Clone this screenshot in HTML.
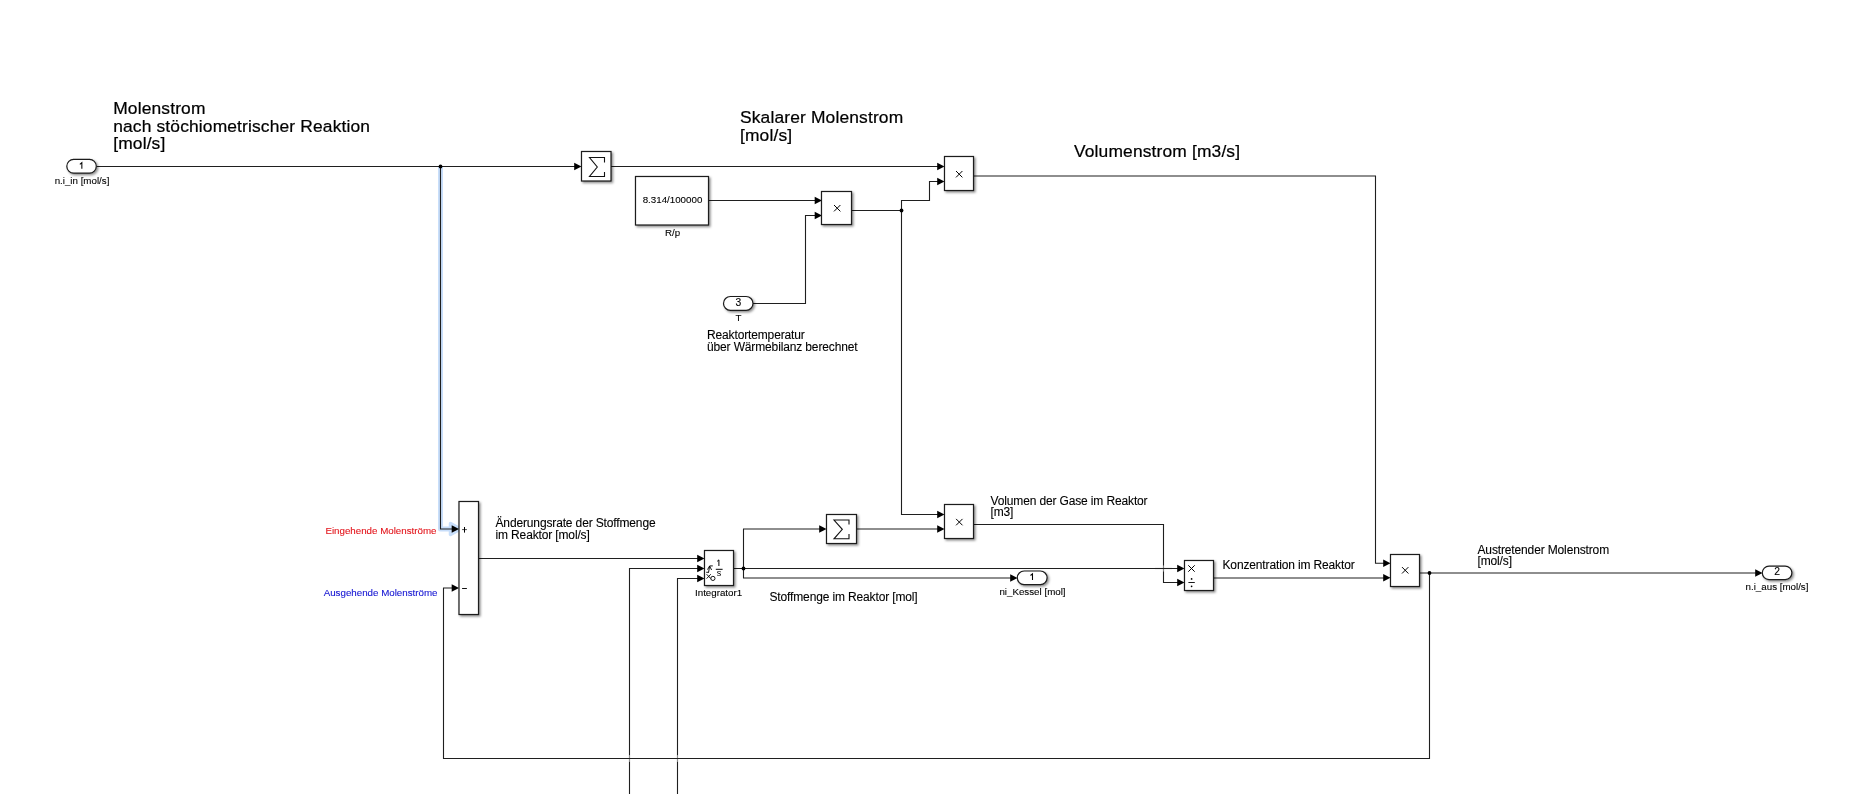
<!DOCTYPE html>
<html><head><meta charset="utf-8"><title>Simulink model</title>
<style>
html,body{margin:0;padding:0;background:#fff;width:1863px;height:794px;overflow:hidden}
svg{display:block;font-family:"Liberation Sans",sans-serif;will-change:transform}
</style></head><body>
<svg width="1863" height="794" viewBox="0 0 1863 794" xmlns="http://www.w3.org/2000/svg">
<defs><filter id="sh" x="-30%" y="-30%" width="160%" height="160%"><feDropShadow dx="1.5" dy="1.5" stdDeviation="1" flood-color="#000" flood-opacity="0.45"/></filter></defs>
<rect width="1863" height="794" fill="#fff"/>
<path d="M440.5,166.5 L440.5,529 L452,529" fill="none" stroke="#c8defa" stroke-width="5" stroke-linejoin="round"/>
<path d="M450.5,523.5 L460.5,529 L450.5,534.5 Z" fill="#c8defa" stroke="#c8defa" stroke-width="3.5" stroke-linejoin="round"/>
<path d="M97,166.5 L575,166.5" fill="none" stroke="#1f1f1f" stroke-width="1.1" stroke-linejoin="miter" stroke-linecap="square"/>
<path d="M440.5,166.5 L440.5,529 L452,529" fill="none" stroke="#1f1f1f" stroke-width="1.1" stroke-linejoin="miter" stroke-linecap="square"/>
<path d="M611.5,166.5 L938,166.5" fill="none" stroke="#1f1f1f" stroke-width="1.1" stroke-linejoin="miter" stroke-linecap="square"/>
<path d="M708.5,200.5 L815.5,200.5" fill="none" stroke="#1f1f1f" stroke-width="1.1" stroke-linejoin="miter" stroke-linecap="square"/>
<path d="M753,303.5 L805.5,303.5 L805.5,215.5 L815.5,215.5" fill="none" stroke="#1f1f1f" stroke-width="1.1" stroke-linejoin="miter" stroke-linecap="square"/>
<path d="M851,210.5 L901.5,210.5 L901.5,200.5 L929.5,200.5 L929.5,181.5 L938,181.5" fill="none" stroke="#1f1f1f" stroke-width="1.1" stroke-linejoin="miter" stroke-linecap="square"/>
<path d="M901.5,210.5 L901.5,514.5 L938,514.5" fill="none" stroke="#1f1f1f" stroke-width="1.1" stroke-linejoin="miter" stroke-linecap="square"/>
<path d="M973.5,176 L1375.5,176 L1375.5,563.3 L1384,563.3" fill="none" stroke="#1f1f1f" stroke-width="1.1" stroke-linejoin="miter" stroke-linecap="square"/>
<path d="M479,558.5 L698,558.5" fill="none" stroke="#1f1f1f" stroke-width="1.1" stroke-linejoin="miter" stroke-linecap="square"/>
<path d="M629.5,800 L629.5,568.5 L698,568.5" fill="none" stroke="#1f1f1f" stroke-width="1.1" stroke-linejoin="miter" stroke-linecap="square"/>
<path d="M677.5,800 L677.5,578.5 L698,578.5" fill="none" stroke="#1f1f1f" stroke-width="1.1" stroke-linejoin="miter" stroke-linecap="square"/>
<path d="M733.5,568.5 L1178,568.5" fill="none" stroke="#1f1f1f" stroke-width="1.1" stroke-linejoin="miter" stroke-linecap="square"/>
<path d="M743.5,568.5 L743.5,529 L820,529" fill="none" stroke="#1f1f1f" stroke-width="1.1" stroke-linejoin="miter" stroke-linecap="square"/>
<path d="M743.5,568.5 L743.5,578 L1011,578" fill="none" stroke="#1f1f1f" stroke-width="1.1" stroke-linejoin="miter" stroke-linecap="square"/>
<path d="M856,529 L938,529" fill="none" stroke="#1f1f1f" stroke-width="1.1" stroke-linejoin="miter" stroke-linecap="square"/>
<path d="M973.5,524.5 L1163.5,524.5 L1163.5,582.5 L1178,582.5" fill="none" stroke="#1f1f1f" stroke-width="1.1" stroke-linejoin="miter" stroke-linecap="square"/>
<path d="M1213.5,578 L1384,578" fill="none" stroke="#1f1f1f" stroke-width="1.1" stroke-linejoin="miter" stroke-linecap="square"/>
<path d="M1419.5,573 L1756,573" fill="none" stroke="#1f1f1f" stroke-width="1.1" stroke-linejoin="miter" stroke-linecap="square"/>
<path d="M1429.5,573 L1429.5,758.5 L443.5,758.5 L443.5,588 L453,588" fill="none" stroke="#1f1f1f" stroke-width="1.1" stroke-linejoin="miter" stroke-linecap="square"/>
<line x1="629.5" y1="755.3" x2="629.5" y2="761.7" stroke="#fff" stroke-width="2.2"/>
<line x1="629.5" y1="755.3" x2="629.5" y2="761.7" stroke="#1f1f1f" stroke-width="1.1" opacity="0.5"/>
<line x1="677.5" y1="755.3" x2="677.5" y2="761.7" stroke="#fff" stroke-width="2.2"/>
<line x1="677.5" y1="755.3" x2="677.5" y2="761.7" stroke="#1f1f1f" stroke-width="1.1" opacity="0.5"/>
<line x1="620" y1="758.5" x2="690" y2="758.5" stroke="#1f1f1f" stroke-width="1.1"/>
<line x1="1163.5" y1="565.7" x2="1163.5" y2="571.3" stroke="#fff" stroke-width="2.2"/>
<line x1="1163.5" y1="565.7" x2="1163.5" y2="571.3" stroke="#1f1f1f" stroke-width="1.1" opacity="0.55"/>
<line x1="1155" y1="568.5" x2="1172" y2="568.5" stroke="#1f1f1f" stroke-width="1.1"/>
<path d="M574.2,162.7 L581.5,166.5 L574.2,170.3 Z" fill="#000"/>
<path d="M937.2,162.7 L944.5,166.5 L937.2,170.3 Z" fill="#000"/>
<path d="M937.2,177.7 L944.5,181.5 L937.2,185.3 Z" fill="#000"/>
<path d="M814.7,196.7 L822,200.5 L814.7,204.3 Z" fill="#000"/>
<path d="M814.7,211.7 L822,215.5 L814.7,219.3 Z" fill="#000"/>
<path d="M937.2,510.7 L944.5,514.5 L937.2,518.3 Z" fill="#000"/>
<path d="M937.2,525.2 L944.5,529 L937.2,532.8 Z" fill="#000"/>
<path d="M1383.2,559.5 L1390.5,563.3 L1383.2,567.0999999999999 Z" fill="#000"/>
<path d="M1383.2,574.0 L1390.5,577.8 L1383.2,581.5999999999999 Z" fill="#000"/>
<path d="M451.7,525.2 L459,529 L451.7,532.8 Z" fill="#000"/>
<path d="M451.7,584.2 L459,588 L451.7,591.8 Z" fill="#000"/>
<path d="M697.2,554.7 L704.5,558.5 L697.2,562.3 Z" fill="#000"/>
<path d="M697.2,564.7 L704.5,568.5 L697.2,572.3 Z" fill="#000"/>
<path d="M697.2,574.7 L704.5,578.5 L697.2,582.3 Z" fill="#000"/>
<path d="M819.2,525.2 L826.5,529 L819.2,532.8 Z" fill="#000"/>
<path d="M1010.2,574.2 L1017.5,578 L1010.2,581.8 Z" fill="#000"/>
<path d="M1177.2,564.7 L1184.5,568.5 L1177.2,572.3 Z" fill="#000"/>
<path d="M1177.2,578.7 L1184.5,582.5 L1177.2,586.3 Z" fill="#000"/>
<path d="M1755.2,569.2 L1762.5,573 L1755.2,576.8 Z" fill="#000"/>
<circle cx="440.5" cy="166.5" r="1.9" fill="#000"/>
<circle cx="901.5" cy="210.5" r="1.9" fill="#000"/>
<circle cx="743.5" cy="568.5" r="1.9" fill="#000"/>
<circle cx="1429.5" cy="573" r="1.9" fill="#000"/>
<rect x="581.5" y="151.5" width="29.5" height="29.5" fill="#fff" stroke="#1a1a1a" stroke-width="1.2" filter="url(#sh)"/>
<path d="M604.5,162.5 L604.5,157.5 L589.5,157.5 L597.3,167 L589.5,176.5 L604.5,176.5 L604.5,172" fill="none" stroke="#111" stroke-width="1.1" stroke-linejoin="miter"/>
<rect x="635.5" y="176.5" width="73" height="48.5" fill="#fff" stroke="#1a1a1a" stroke-width="1.2" filter="url(#sh)"/>
<rect x="821.5" y="191.5" width="30" height="33" fill="#fff" stroke="#1a1a1a" stroke-width="1.2" filter="url(#sh)"/>
<rect x="944.5" y="156.5" width="29" height="34" fill="#fff" stroke="#1a1a1a" stroke-width="1.2" filter="url(#sh)"/>
<rect x="944.5" y="504.5" width="29" height="34" fill="#fff" stroke="#1a1a1a" stroke-width="1.2" filter="url(#sh)"/>
<rect x="826.5" y="514.5" width="30" height="29" fill="#fff" stroke="#1a1a1a" stroke-width="1.2" filter="url(#sh)"/>
<path d="M849,524.5 L849,520 L834,520 L842.3,529.3 L834,538.8 L849,538.8 L849,534" fill="none" stroke="#111" stroke-width="1.1" stroke-linejoin="miter"/>
<rect x="704.5" y="550.5" width="29" height="35" fill="#fff" stroke="#1a1a1a" stroke-width="1.2" filter="url(#sh)"/>
<rect x="1184.5" y="560.5" width="29" height="30" fill="#fff" stroke="#1a1a1a" stroke-width="1.2" filter="url(#sh)"/>
<rect x="1390.5" y="554.5" width="29" height="32" fill="#fff" stroke="#1a1a1a" stroke-width="1.2" filter="url(#sh)"/>
<rect x="459" y="501.5" width="19.5" height="113" fill="#fff" stroke="#1a1a1a" stroke-width="1.2" filter="url(#sh)"/>
<path d="M834.0,205.0 L840.4000000000001,211.39999999999998 M840.4000000000001,205.0 L834.0,211.39999999999998" stroke="#000" stroke-width="1"/>
<path d="M956.0,171.0 L962.4000000000001,177.39999999999998 M962.4000000000001,171.0 L956.0,177.39999999999998" stroke="#000" stroke-width="1"/>
<path d="M956.0999999999999,518.9 L962.5,525.3000000000001 M962.5,518.9 L956.0999999999999,525.3000000000001" stroke="#000" stroke-width="1"/>
<path d="M1402.0,567.0999999999999 L1408.4,573.5 M1408.4,567.0999999999999 L1402.0,573.5" stroke="#000" stroke-width="1"/>
<path d="M1188.3,565.3 L1194.7,571.7 M1194.7,565.3 L1188.3,571.7" stroke="#000" stroke-width="1"/>
<line x1="1188.4" y1="582.5" x2="1194.8" y2="582.5" stroke="#000" stroke-width="0.9"/>
<circle cx="1191.6" cy="578.9" r="0.85" fill="#000"/><circle cx="1191.6" cy="586.3" r="0.85" fill="#000"/>
<path d="M462.1,529.6 L466.9,529.6" stroke="#333" stroke-width="0.9"/><path d="M464.5,527 L464.5,532.6" stroke="#000" stroke-width="1"/>
<line x1="462.1" y1="588.5" x2="466.9" y2="588.5" stroke="#111" stroke-width="1"/>
<path d="M718.9,566 L718.9,559.9 L717.2,561.3" fill="none" stroke="#000" stroke-width="1"/>
<line x1="715.8" y1="569.3" x2="722.6" y2="569.3" stroke="#000" stroke-width="1"/>
<text x="719.1" y="575.8" font-size="9" text-anchor="middle">s</text>
<path d="M706.6,574.2 L710.8,578.6 M710.8,574.2 L706.6,578.6" stroke="#000" stroke-width="0.9" fill="none"/>
<circle cx="712.9" cy="578.4" r="2.1" fill="none" stroke="#000" stroke-width="0.9"/>
<path d="M708.6,572.2 L709.6,566 M707.5,569.6 L709.6,566 L711.6,570 M709.6,565.9 L712.8,565.9 M706.2,572.3 L709,572.3" fill="none" stroke="#000" stroke-width="0.9"/>
<rect x="66.8" y="159.3" width="29.5" height="13.8" rx="6.9" ry="6.9" fill="#fff" stroke="#1a1a1a" stroke-width="1.2" filter="url(#sh)"/>
<path d="M79.85,164.4 L81.85,162.70000000000002 L81.85,168.8" fill="none" stroke="#000" stroke-width="1.05"/>
<rect x="723.5" y="296.5" width="29.5" height="13.8" rx="6.9" ry="6.9" fill="#fff" stroke="#1a1a1a" stroke-width="1.2" filter="url(#sh)"/>
<text x="738.25" y="306.29999999999995" font-size="10.3" text-anchor="middle" stroke="#000" stroke-width="0.12">3</text>
<rect x="1017.3" y="571" width="29.8" height="13.6" rx="6.8" ry="6.8" fill="#fff" stroke="#1a1a1a" stroke-width="1.2" filter="url(#sh)"/>
<path d="M1030.5,575.5 L1032.5,573.8 L1032.5,579.9" fill="none" stroke="#000" stroke-width="1.05"/>
<rect x="1762.3" y="566.1" width="29.6" height="13.5" rx="6.75" ry="6.75" fill="#fff" stroke="#1a1a1a" stroke-width="1.2" filter="url(#sh)"/>
<text x="1777.1" y="574.95" font-size="10.3" text-anchor="middle" stroke="#000" stroke-width="0.12">2</text>
<text x="113.2" y="114" font-size="17.4" text-anchor="start" fill="#000" stroke="#000" stroke-width="0.22" letter-spacing="0.15">Molenstrom</text>
<text x="113.2" y="131.7" font-size="17.4" text-anchor="start" fill="#000" stroke="#000" stroke-width="0.22" letter-spacing="0.15">nach stöchiometrischer Reaktion</text>
<text x="113.2" y="149.3" font-size="17.4" text-anchor="start" fill="#000" stroke="#000" stroke-width="0.22" letter-spacing="0.15">[mol/s]</text>
<text x="740" y="123.2" font-size="17.4" text-anchor="start" fill="#000" stroke="#000" stroke-width="0.22" letter-spacing="0.15">Skalarer Molenstrom</text>
<text x="740" y="140.6" font-size="17.4" text-anchor="start" fill="#000" stroke="#000" stroke-width="0.22" letter-spacing="0.15">[mol/s]</text>
<text x="1074" y="157.1" font-size="17.4" text-anchor="start" fill="#000" stroke="#000" stroke-width="0.22" letter-spacing="0.15">Volumenstrom [m3/s]</text>
<text x="82" y="183.8" font-size="9.75" text-anchor="middle" fill="#000" stroke="#000" stroke-width="0.1">n.i_in [mol/s]</text>
<text x="672.5" y="202.8" font-size="9.75" text-anchor="middle" fill="#000" stroke="#000" stroke-width="0.1">8.314/100000</text>
<text x="672.5" y="235.5" font-size="9.75" text-anchor="middle" fill="#000" stroke="#000" stroke-width="0.1">R/p</text>
<text x="738.5" y="320.7" font-size="9.75" text-anchor="middle" fill="#000" stroke="#000" stroke-width="0.1">T</text>
<text x="707" y="338.7" font-size="12.0" text-anchor="start" fill="#000" stroke="#000" stroke-width="0.1" letter-spacing="-0.14">Reaktortemperatur</text>
<text x="707" y="350.5" font-size="12.0" text-anchor="start" fill="#000" stroke="#000" stroke-width="0.1" letter-spacing="-0.14">über Wärmebilanz berechnet</text>
<text x="436.5" y="533.9" font-size="9.75" text-anchor="end" fill="#e3141b" stroke="#e3141b" stroke-width="0.1">Eingehende Molenströme</text>
<text x="437.5" y="596.3" font-size="9.75" text-anchor="end" fill="#1414d2" stroke="#1414d2" stroke-width="0.1">Ausgehende Molenströme</text>
<text x="495.5" y="526.9" font-size="12.0" text-anchor="start" fill="#000" stroke="#000" stroke-width="0.1" letter-spacing="-0.14">Änderungsrate der Stoffmenge</text>
<text x="495.5" y="538.5" font-size="12.0" text-anchor="start" fill="#000" stroke="#000" stroke-width="0.1" letter-spacing="-0.14">im Reaktor [mol/s]</text>
<text x="718.6" y="596" font-size="9.75" text-anchor="middle" fill="#000" stroke="#000" stroke-width="0.1">Integrator1</text>
<text x="769.5" y="601" font-size="12.0" text-anchor="start" fill="#000" stroke="#000" stroke-width="0.1" letter-spacing="-0.14">Stoffmenge im Reaktor [mol]</text>
<text x="1032.5" y="595.1" font-size="9.75" text-anchor="middle" fill="#000" stroke="#000" stroke-width="0.1">ni_Kessel [mol]</text>
<text x="990.5" y="504.6" font-size="12.0" text-anchor="start" fill="#000" stroke="#000" stroke-width="0.1" letter-spacing="-0.14">Volumen der Gase im Reaktor</text>
<text x="990.5" y="515.5" font-size="12.0" text-anchor="start" fill="#000" stroke="#000" stroke-width="0.1" letter-spacing="-0.14">[m3]</text>
<text x="1222.5" y="568.5" font-size="12.0" text-anchor="start" fill="#000" stroke="#000" stroke-width="0.1" letter-spacing="-0.14">Konzentration im Reaktor</text>
<text x="1477.5" y="553.7" font-size="12.0" text-anchor="start" fill="#000" stroke="#000" stroke-width="0.1" letter-spacing="-0.14">Austretender Molenstrom</text>
<text x="1477.5" y="565.4" font-size="12.0" text-anchor="start" fill="#000" stroke="#000" stroke-width="0.1" letter-spacing="-0.14">[mol/s]</text>
<text x="1777" y="590.4" font-size="9.75" text-anchor="middle" fill="#000" stroke="#000" stroke-width="0.1">n.i_aus [mol/s]</text>
</svg>
</body></html>
